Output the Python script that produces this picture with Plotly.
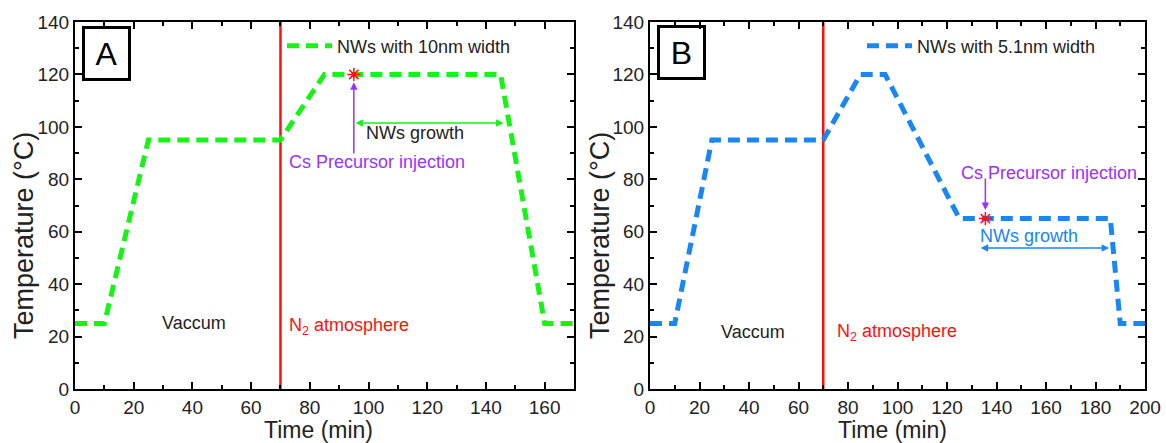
import plotly.graph_objects as go

# ---------------- data ----------------
time_a = [0, 10, 25, 70, 85, 145, 160, 170]
temp_a = [25, 25, 95, 95, 120, 120, 25, 25]
time_b = [0, 10, 25, 70, 85, 95, 125, 186, 190, 200]
temp_b = [25, 25, 95, 95, 120, 120, 65, 65, 25, 25]
switch_time = [70, 70]
switch_temp = [0, 140]
inject_a = (95, 120)
inject_b = (135.5, 65)
growth_a = (95, 146, 101.5)
growth_b = (133, 185.5, 53.8)
x_range_a = [0, 170]
x_range_b = [0, 200]
y_range = [0, 140]

W, H = 1166, 443
GREEN = "#17f217"
BLUE = "#1a86f0"
RED = "#ff1010"
PURPLE = "#9b30ff"
FONT = "Liberation Sans, Arial, sans-serif"


def px_x(p):
    return p / W


def px_y(p):
    return 1 - p / H


fig = go.Figure()

fig.add_trace(go.Scatter(x=switch_time, y=switch_temp, mode="lines",
                         line=dict(color=RED, width=2.5), showlegend=False,
                         xaxis="x", yaxis="y"))
fig.add_trace(go.Scatter(x=time_a, y=temp_a, mode="lines", name="NWs with 10nm width",
                         line=dict(color=GREEN, width=5, dash="12px,7px"),
                         xaxis="x", yaxis="y", legend="legend"))
fig.add_trace(go.Scatter(x=[inject_a[0]], y=[inject_a[1]], mode="markers",
                         marker=dict(symbol="asterisk-open", size=11, color=RED,
                                     line=dict(color=RED, width=1.5)),
                         showlegend=False, xaxis="x", yaxis="y"))

fig.add_trace(go.Scatter(x=switch_time, y=switch_temp, mode="lines",
                         line=dict(color=RED, width=2.5), showlegend=False,
                         xaxis="x2", yaxis="y2"))
fig.add_trace(go.Scatter(x=time_b, y=temp_b, mode="lines", name="NWs with 5.1nm width",
                         line=dict(color=BLUE, width=5, dash="12px,7px"),
                         xaxis="x2", yaxis="y2", legend="legend2"))
fig.add_trace(go.Scatter(x=[inject_b[0]], y=[inject_b[1]], mode="markers",
                         marker=dict(symbol="asterisk-open", size=11, color=RED,
                                     line=dict(color=RED, width=1.5)),
                         showlegend=False, xaxis="x2", yaxis="y2"))

ydom = [px_y(389), px_y(22)]

axis_common = dict(showline=True, linewidth=2, linecolor="black", mirror="allticks",
                   ticks="inside", ticklen=7, tickwidth=1.5, tickcolor="black",
                   showgrid=False, zeroline=False, automargin=False,
                   ticklabeloverflow="allow",
                   tickfont=dict(family=FONT, size=19, color="#222"),
                   minor=dict(ticks="inside", ticklen=4, tickwidth=1.5,
                              tickcolor="black", dtick=10, showgrid=False))

fig.update_layout(
    width=W, height=H,
    margin=dict(l=0, r=0, t=0, b=0),
    paper_bgcolor="white", plot_bgcolor="white",
    font=dict(family=FONT, color="#222"),
    xaxis=dict(domain=[px_x(75), px_x(574)], range=x_range_a, dtick=20,
               anchor="y", **axis_common),
    yaxis=dict(domain=ydom, range=y_range, dtick=20, anchor="x", **axis_common),
    xaxis2=dict(domain=[px_x(650), px_x(1145)], range=x_range_b, dtick=20,
                anchor="y2", **axis_common),
    yaxis2=dict(domain=ydom, range=y_range, dtick=20, anchor="x2", **axis_common),
    legend=dict(x=px_x(282), y=px_y(46), xanchor="left", yanchor="middle",
                bgcolor="rgba(0,0,0,0)", font=dict(size=18, family=FONT, color="#222"),
                itemwidth=45),
    legend2=dict(x=px_x(862), y=px_y(46), xanchor="left", yanchor="middle",
                 bgcolor="rgba(0,0,0,0)", font=dict(size=18, family=FONT, color="#222"),
                 itemwidth=45),
)

ann = []
# panel letters
for letter, cx, cy in [("A", 106.5, 53.5), ("B", 681.5, 52.5)]:
    ann.append(dict(text=letter, x=px_x(cx), y=px_y(cy), xref="paper", yref="paper",
                    showarrow=False, font=dict(size=32, family=FONT, color="black"),
                    bordercolor="black", borderwidth=3, width=41, height=47,
                    xanchor="center", yanchor="middle"))
# axis titles
for cx in [318, 892]:
    ann.append(dict(text="Time (min)", x=px_x(cx), y=px_y(430), xref="paper", yref="paper",
                    showarrow=False, font=dict(size=23, family=FONT, color="#222"),
                    xanchor="center", yanchor="middle"))
for cx in [24, 600]:
    ann.append(dict(text="Temperature (°C)", x=px_x(cx), y=px_y(236),
                    xref="paper", yref="paper", textangle=-90,
                    showarrow=False, font=dict(size=27, family=FONT, color="#222"),
                    xanchor="center", yanchor="middle"))

# panel A annotations
ann += [
    dict(text="Vaccum", x=40.5, y=25, xref="x", yref="y", showarrow=False,
         font=dict(size=18, color="#222")),
    dict(text="N<sub>2</sub> atmosphere", x=72.2, y=24, xref="x", yref="y",
         showarrow=False, xanchor="left", font=dict(size=18, color=RED)),
    dict(text="Cs Precursor injection", x=102.9, y=86.6, xref="x", yref="y",
         showarrow=False, font=dict(size=18, color=PURPLE)),
    dict(text="", x=inject_a[0], y=117, ax=inject_a[0], ay=89.3, xref="x", yref="y",
         axref="x", ayref="y", showarrow=True, arrowhead=2, arrowsize=1,
         arrowwidth=1.5, arrowcolor=PURPLE),
    dict(text="", x=growth_a[1], y=growth_a[2], ax=growth_a[0], ay=growth_a[2],
         xref="x", yref="y", axref="x", ayref="y", showarrow=True, arrowhead=2,
         startarrowhead=2, arrowside="end+start", arrowsize=1, arrowwidth=1.5,
         arrowcolor=GREEN),
    dict(text="NWs growth", x=116, y=97.5, xref="x", yref="y", showarrow=False,
         font=dict(size=18, color="#222")),
]
# panel B annotations
ann += [
    dict(text="Vaccum", x=41.6, y=21.7, xref="x2", yref="y2", showarrow=False,
         font=dict(size=18, color="#222")),
    dict(text="N<sub>2</sub> atmosphere", x=74.7, y=21.7, xref="x2", yref="y2",
         showarrow=False, xanchor="left", font=dict(size=18, color=RED)),
    dict(text="Cs Precursor injection", x=161.2, y=82.4, xref="x2", yref="y2",
         showarrow=False, font=dict(size=18, color=PURPLE)),
    dict(text="", x=inject_b[0], y=68.3, ax=inject_b[0], ay=80.9, xref="x2", yref="y2",
         axref="x2", ayref="y2", showarrow=True, arrowhead=2, arrowsize=1,
         arrowwidth=1.5, arrowcolor=PURPLE),
    dict(text="", x=growth_b[1], y=growth_b[2], ax=growth_b[0], ay=growth_b[2],
         xref="x2", yref="y2", axref="x2", ayref="y2", showarrow=True, arrowhead=2,
         startarrowhead=2, arrowside="end+start", arrowsize=1, arrowwidth=1.5,
         arrowcolor=BLUE),
    dict(text="NWs growth", x=153.1, y=58.4, xref="x2", yref="y2", showarrow=False,
         font=dict(size=18, color=BLUE)),
]
fig.update_layout(annotations=ann)

fig.write_html("out.html",
               config={"displayModeBar": False},
               post_script="document.body.style.margin='0';"
                           "document.body.style.overflow='hidden';")
